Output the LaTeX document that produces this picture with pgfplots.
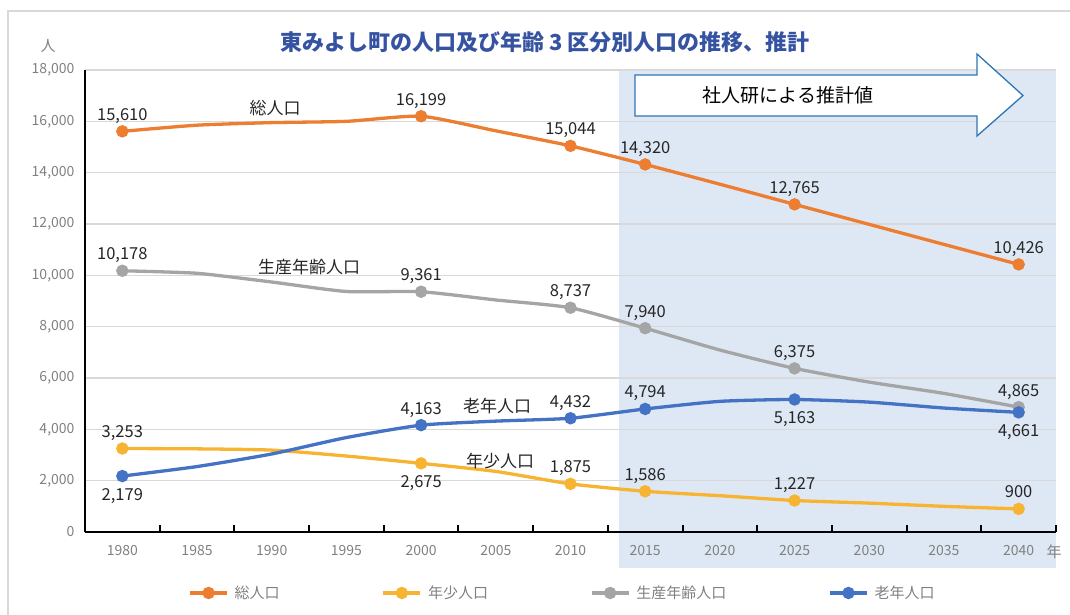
\documentclass[border=0pt]{standalone}
\usepackage{fontspec}
\setmainfont{Noto Sans CJK JP}
\usepackage{pgfplots}
\pgfplotsset{compat=1.18}
\definecolor{cOrange}{HTML}{ED7D31}
\definecolor{cYellow}{HTML}{F7B433}
\definecolor{cGray}{HTML}{A5A5A5}
\definecolor{cBlue}{HTML}{4472C4}
\definecolor{cShade}{HTML}{DEE8F5}
\definecolor{gridc}{HTML}{D9D9D9}
\definecolor{arrowc}{HTML}{2E75B6}
\definecolor{titlec}{HTML}{3553A1}
\definecolor{tickc}{HTML}{808080}
\definecolor{lblc}{HTML}{262626}

\pgfplotstableread{
year total youth working elderly
1980 15610 3253 10178 2179
1985 15850 3240 10080 2550
1990 15950 3190 9740 3040
1995 16000 2960 9370 3680
2000 16199 2675 9361 4163
2005 15630 2360 9040 4320
2010 15044 1875 8737 4432
2015 14320 1586 7940 4794
2020 13550 1414 7090 5090
2025 12765 1227 6375 5163
2030 11985 1125 5840 5060
2035 11205 1000 5400 4830
2040 10426 900 4865 4661
}\datatable

\begin{document}
\begin{tikzpicture}
\path[use as bounding box] (0pt,0pt) rectangle (1070pt,614pt);
\draw[gridc, line width=1.5pt] (8pt,-2pt) -- (8pt,603pt) -- (1072pt,603pt);
\fill[cShade] (619pt,46pt) rectangle (1056pt,544pt);
\begin{axis}[
  scale only axis, width=971pt, height=462pt,
  at={(85pt,82pt)}, anchor=south west,
  xmin=1977.5, xmax=2042.5, ymin=0, ymax=18000,
  clip=false,
  axis lines=left,
  axis line style={-, black, line width=2.5pt},
  xtick={1980,1985,...,2040},
  xticklabels={1980,1985,1990,1995,2000,2005,2010,2015,2020,2025,2030,2035,2040},
  minor xtick={1982.5,1987.5,...,2042.5},
  major tick length=0pt,
  minor tick length=7pt,
  tick align=inside,
  ytick={0,2000,...,18000},
  scaled y ticks=false,
  ymajorgrids,
  major grid style={gridc, line width=1.5pt},
  y tick style={draw=none},
  x tick style={draw=none},
  minor x tick style={draw=black, line width=2pt},
  /pgf/number format/.cd, 1000 sep={,}, assume math mode=true, /pgfplots/.cd,
  xticklabel style={tickc, font=\fontsize{14}{16}\selectfont, yshift=-10pt},
  yticklabel style={tickc, font=\fontsize{14}{16}\selectfont, xshift=-7pt},
  legend columns=4,
  legend style={at={(0.4918,-0.132)}, anchor=center, draw=none, fill=none,
    font=\fontsize{15}{17}\selectfont\color{tickc},
    /tikz/every odd column/.append style={column sep=4pt},
    /tikz/every even column/.append style={column sep=100pt}},
  legend image code/.code={\draw[mark repeat=2,mark phase=2,#1] plot coordinates {(0pt,0pt) (18.5pt,0pt) (37pt,0pt)};},
]
\addlegendimage{cOrange, line width=3.3pt, mark=*, mark size=4.5pt}
\addlegendimage{cYellow, line width=3.3pt, mark=*, mark size=4.5pt}
\addlegendimage{cGray, line width=3.3pt, mark=*, mark size=4.5pt}
\addlegendimage{cBlue, line width=3.3pt, mark=*, mark size=4.5pt}
\legend{総人口,年少人口,生産年齢人口,老年人口}

\addplot[forget plot, cOrange, line width=3.3pt, mark=*, mark size=4.5pt, mark indices={1,5,7,8,10,13}, smooth, tension=0.35] table[x=year,y=total] {\datatable};
\addplot[forget plot, cYellow, line width=3.3pt, mark=*, mark size=4.5pt, mark indices={1,5,7,8,10,13}, smooth, tension=0.35] table[x=year,y=youth] {\datatable};
\addplot[forget plot, cGray, line width=3.3pt, mark=*, mark size=4.5pt, mark indices={1,5,7,8,10,13}, smooth, tension=0.35] table[x=year,y=working] {\datatable};
\addplot[forget plot, cBlue, line width=3.3pt, mark=*, mark size=4.5pt, mark indices={1,5,7,8,10,13}, smooth, tension=0.35] table[x=year,y=elderly] {\datatable};

\tikzset{lbl/.style={font=\fontsize{16.5}{18}\selectfont, text=lblc, anchor=base, inner sep=0pt},
  up/.style={lbl, yshift=11pt}, dn/.style={lbl, yshift=-24pt}}
% total
\node[up] at (axis cs:1980,15610) {15,610};
\node[up] at (axis cs:2000,16199) {16,199};
\node[up] at (axis cs:2010,15044) {15,044};
\node[up] at (axis cs:2015,14320) {14,320};
\node[up] at (axis cs:2025,12765) {12,765};
\node[up] at (axis cs:2040,10426) {10,426};
% working
\node[up] at (axis cs:1980,10178) {10,178};
\node[up] at (axis cs:2000,9361) {9,361};
\node[up] at (axis cs:2010,8737) {8,737};
\node[up] at (axis cs:2015,7940) {7,940};
\node[up] at (axis cs:2025,6375) {6,375};
\node[up] at (axis cs:2040,4865) {4,865};
% elderly
\node[dn] at (axis cs:1980,2179) {2,179};
\node[up] at (axis cs:2000,4163) {4,163};
\node[up] at (axis cs:2010,4432) {4,432};
\node[up] at (axis cs:2015,4794) {4,794};
\node[dn] at (axis cs:2025,5163) {5,163};
\node[dn] at (axis cs:2040,4661) {4,661};
% youth
\node[up] at (axis cs:1980,3253) {3,253};
\node[dn] at (axis cs:2000,2675) {2,675};
\node[up] at (axis cs:2010,1875) {1,875};
\node[up] at (axis cs:2015,1586) {1,586};
\node[up] at (axis cs:2025,1227) {1,227};
\node[up] at (axis cs:2040,900) {900};
\end{axis}

% projection arrow
\draw[arrowc, line width=1.3pt, fill=white, line join=miter]
  (635pt,539pt) -- (977pt,539pt) -- (977pt,560pt) -- (1023pt,518.5pt) -- (977pt,478pt) -- (977pt,498pt) -- (635pt,498pt) -- cycle;
\node[font=\fontsize{19}{21}\selectfont, text=black] at (788pt,519pt) {社人研による推計値};

% series names
\node[font=\fontsize{17}{19}\selectfont, text=lblc] at (275pt,506pt) {総人口};
\node[font=\fontsize{17}{19}\selectfont, text=lblc] at (309pt,347pt) {生産年齢人口};
\node[font=\fontsize{17}{19}\selectfont, text=lblc] at (497pt,208pt) {老年人口};
\node[font=\fontsize{17}{19}\selectfont, text=lblc] at (500pt,153pt) {年少人口};

% axis units
\node[font=\fontsize{15}{17}\selectfont, text=tickc] at (48pt,568pt) {人};
\node[font=\fontsize{15}{17}\selectfont, text=tickc] at (1054pt,62pt) {年};

% title
\node[font=\fontsize{22}{25}\selectfont\bfseries, text=titlec] at (545pt,572pt) {東みよし町の人口及び年齢 3 区分別人口の推移、推計};
\end{tikzpicture}
\end{document}
